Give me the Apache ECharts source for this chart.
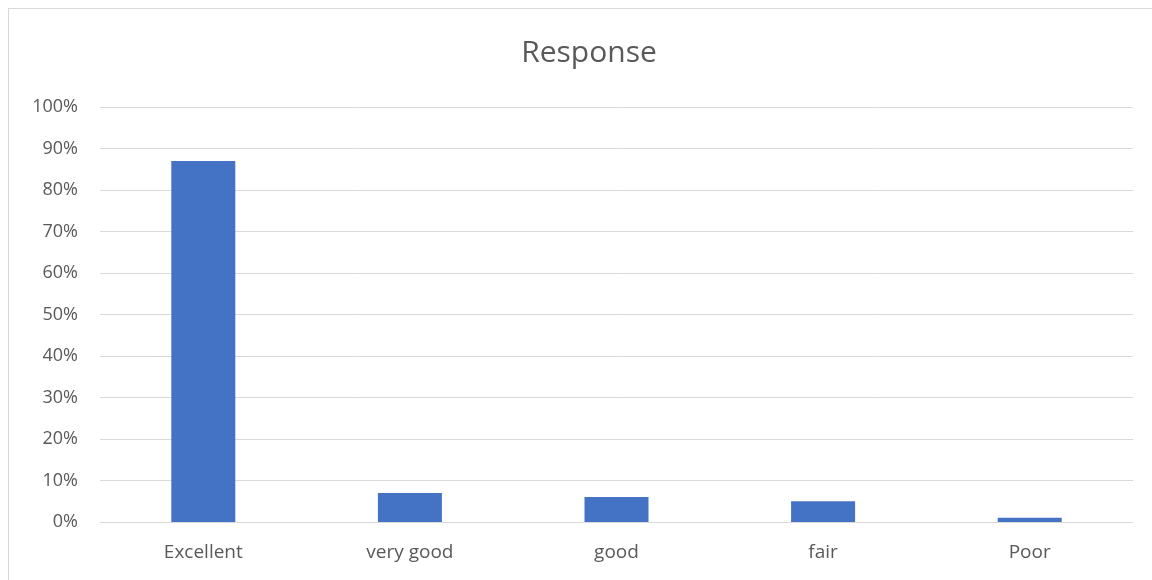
<!DOCTYPE html>
<html>
<head>
<meta charset="utf-8">
<script src="https://cdn.jsdelivr.net/npm/echarts@6/dist/echarts.min.js"></script>
<style>
html,body{margin:0;padding:0;background:#fff;}
#frame{position:absolute;left:8px;top:8px;width:1150px;height:580px;border:1px solid #d9d9d9;box-sizing:border-box;}
#chart{position:absolute;left:0;top:0;width:1152px;height:580px;}
</style>
</head>
<body>
<div id="frame"></div>
<div id="chart"></div>
<script>
const categories = ['Excellent', 'very good', 'good', 'fair', 'Poor'];
const values = [87, 7, 6, 5, 1];
const yTicks = [0, 10, 20, 30, 40, 50, 60, 70, 80, 90, 100];

const chart = echarts.init(document.getElementById('chart'));
const font = '"Open Sans", "Liberation Sans", sans-serif';
chart.setOption({
  animation: false,
  title: {
    text: 'Response',
    left: 584, top: 33, textAlign: 'center',
    textStyle: {fontFamily: font, fontSize: 30, fontWeight: 'normal', color: '#595959'}
  },
  grid: {left: 100, right: 19, top: 107, bottom: 58, containLabel: false},
  xAxis: {
    type: 'category', data: categories,
    axisLine: {lineStyle: {color: '#d9d9d9', width: 1}},
    axisTick: {show: false},
    axisLabel: {fontFamily: font, fontSize: 19, color: '#595959', margin: 21}
  },
  yAxis: {
    type: 'value', min: yTicks[0], max: yTicks[yTicks.length - 1], interval: 10,
    axisLine: {show: false}, axisTick: {show: false},
    splitLine: {lineStyle: {color: '#d9d9d9', width: 1}},
    axisLabel: {fontFamily: font, fontSize: 18, color: '#595959', margin: 22, formatter: v => v + '%'}
  },
  series: [{
    type: 'bar', data: values, barWidth: 64,
    itemStyle: {color: '#4472c4'}
  }]
});
</script>
</body>
</html>
